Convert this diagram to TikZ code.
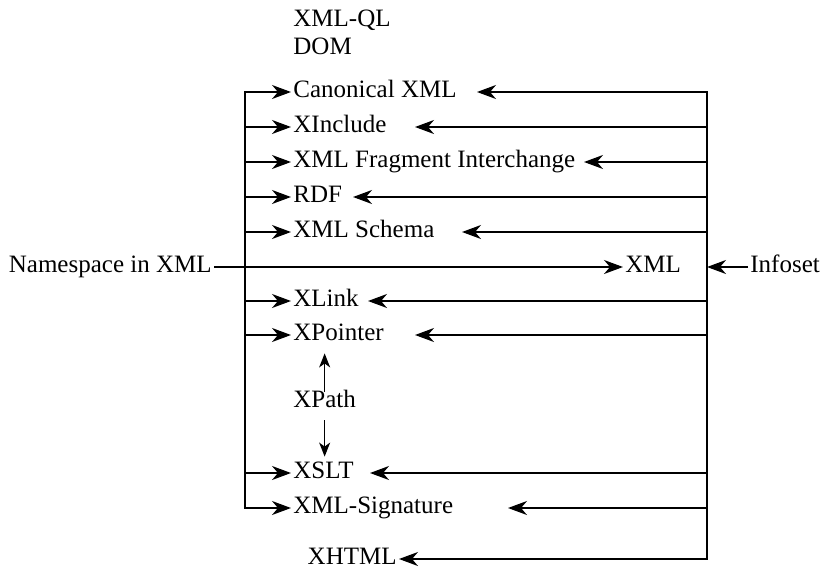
\documentclass[tikz,border=0pt]{standalone}
\usepackage{fontspec}
\setmainfont{Liberation Serif}
\usetikzlibrary{arrows.meta}
\tikzstyle{spec} = [anchor=west, inner sep=1pt, text height=1.5ex, text depth=.25ex, font=\fontsize{12.5}{15}\selectfont]
\tikzstyle{bar} = [line width=1.4pt, line cap=rect]
\tikzstyle{feed} = [line width=0.7pt, -{Stealth[length=9.5pt,width=7pt,inset=3pt]}]
\tikzstyle{thinfeed} = [line width=0.6pt, -{Stealth[length=7pt,width=5.5pt,inset=2pt]}]

\begin{document}
\begin{tikzpicture}[x=0.5pt,y=-0.5pt]
    \useasboundingbox (0,0) rectangle (825,574);

    \node(xmlql)[spec] at (291,21) {XML-QL};
    \node(dom)[spec] at (291,49) {DOM};
    \node(canon)[spec] at (291,92) {Canonical XML};
    \node(xinc)[spec] at (291,127) {XInclude};
    \node(frag)[spec] at (291,162) {XML Fragment Interchange};
    \node(rdf)[spec] at (291,197) {RDF};
    \node(schema)[spec] at (291,232) {XML Schema};
    \node(xlink)[spec] at (291,301) {XLink};
    \node(xptr)[spec] at (291,335) {XPointer};
    \node(xpath)[spec] at (291,402) {XPath};
    \node(xslt)[spec] at (291,473) {XSLT};
    \node(sig)[spec] at (291,508) {XML-Signature};
    \node(xhtml)[spec, anchor=east] at (399,559) {XHTML};

    \node(ns)[spec, anchor=east] at (214,267) {Namespace in XML};
    \node(xml)[spec] at (623,267) {XML};
    \node(infoset)[spec] at (748,267) {Infoset};

    \coordinate(ltop) at (245,92);
    \coordinate(lbot) at (245,508);
    \coordinate(rtop) at (707,92);
    \coordinate(rbot) at (707,559);

    \draw[bar] (ltop) -- (lbot);
    \draw[bar] (rtop) -- (rbot);

    % from the left bar
    \foreach \n in {canon,xinc,frag,rdf,schema,xlink,xptr,xslt,sig}
        \draw[feed] (ltop |- \n.west) -- (\n.west);

    % from the right bar
    \foreach \n/\len in {canon/230, xinc/292, frag/123, rdf/354, schema/245, xlink/339, xptr/292, xslt/337, sig/199}
        \draw[feed] (rtop |- \n.west) -- ++(-\len,0);
    \draw[feed] (rbot) -- (xhtml.east);

    \draw[feed] (ns.east) -- (xml.west);
    \draw[feed] (infoset.west) -- (rtop |- infoset.west);

    \draw[thinfeed, shorten >=4pt] (xpath.north) -- (xpath.north |- xptr.south);
    \draw[thinfeed, shorten <=4pt, shorten >=3pt] (xpath.south) -- (xpath.south |- xslt.north);

\end{tikzpicture}
\end{document}
